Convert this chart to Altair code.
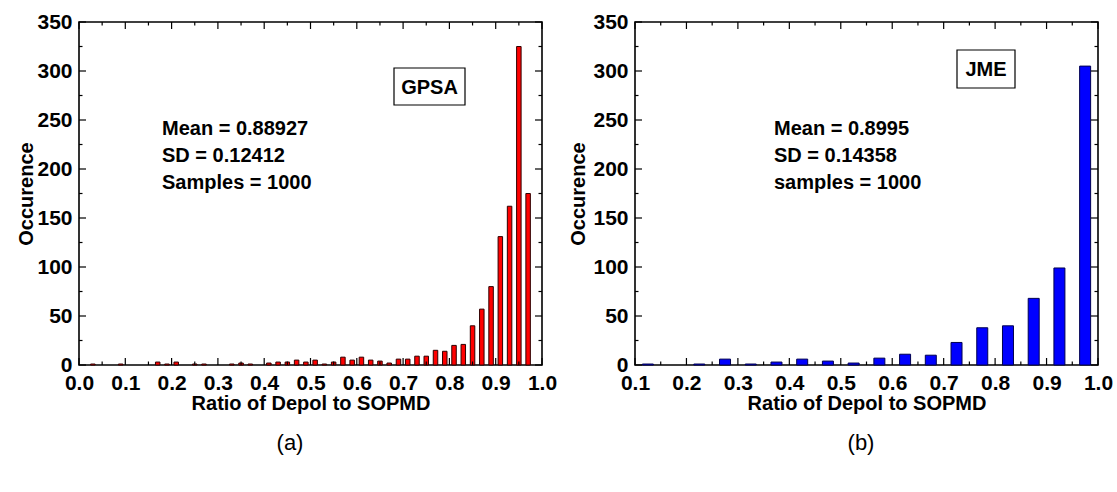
import altair as alt
import pandas as pd

# ---------------- data ----------------
# (a) GPSA histogram: bin centres and occurrences
gpsa_bin = [0.01, 0.03, 0.05, 0.07, 0.09, 0.11, 0.13, 0.15, 0.17, 0.19,
            0.21, 0.23, 0.25, 0.27, 0.29, 0.31, 0.33, 0.35, 0.37, 0.39,
            0.41, 0.43, 0.45, 0.47, 0.49, 0.51, 0.53, 0.55, 0.57, 0.59,
            0.61, 0.63, 0.65, 0.67, 0.69, 0.71, 0.73, 0.75, 0.77, 0.79,
            0.81, 0.83, 0.85, 0.87, 0.89, 0.91, 0.93, 0.95, 0.97, 0.99]
gpsa_count = [0, 1, 0, 0, 1, 0, 0, 0, 3, 1,
              3, 0, 1, 1, 0, 0, 1, 2, 1, 0,
              2, 3, 3, 5, 3, 5, 1, 3, 8, 5,
              8, 5, 4, 2, 6, 6, 9, 9, 15, 14,
              20, 21, 40, 57, 80, 131, 162, 325, 175, 0]

# (b) JME histogram
jme_bin = [0.125, 0.175, 0.225, 0.275, 0.325, 0.375, 0.425, 0.475, 0.525,
           0.575, 0.625, 0.675, 0.725, 0.775, 0.825, 0.875, 0.925, 0.975]
jme_count = [1, 0, 1, 6, 1, 3, 6, 4, 2, 7, 11, 10, 23, 38, 40, 68, 99, 305]

# axis ticks
gpsa_xmajor = [0.0, 0.1, 0.2, 0.3, 0.4, 0.5, 0.6, 0.7, 0.8, 0.9, 1.0]
gpsa_xminor = [0.05, 0.15, 0.25, 0.35, 0.45, 0.55, 0.65, 0.75, 0.85, 0.95]
jme_xmajor = [0.1, 0.2, 0.3, 0.4, 0.5, 0.6, 0.7, 0.8, 0.9, 1.0]
jme_xminor = [0.15, 0.25, 0.35, 0.45, 0.55, 0.65, 0.75, 0.85, 0.95]
ymajor = [0, 50, 100, 150, 200, 250, 300, 350]
yminor = [25, 75, 125, 175, 225, 275, 325]

gpsa_stats = "Mean = 0.88927\nSD = 0.12412\nSamples = 1000"
jme_stats = "Mean = 0.8995\nSD = 0.14358\nsamples = 1000"

FONT = "Liberation Sans"
W, H = 463, 343
MAJ, MIN = 7, 3.5
XTITLE = "Ratio of Depol to SOPMD"
YTITLE = "Occurence"


def panel(bins, counts, xdom, xmaj, xmin, fill, stroke, barw,
          stats, stats_x, tag, box, letter, letter_x, ytpad):
    df = pd.DataFrame({"bin": bins, "count": counts})
    df = df[df["count"] > 0]
    xs = alt.Scale(domain=xdom, nice=False, zero=False, padding=0)
    ys = alt.Scale(domain=[0, 350], nice=False, padding=0)
    xax = alt.Axis(values=xmaj, format=".1f", labelFlush=False,
                   labelOverlap=False, ticks=False, domain=False,
                   grid=False, labelPadding=7, titlePadding=0)
    yax = alt.Axis(values=ymajor, ticks=False, domain=False,
                   grid=False, labelPadding=7, titlePadding=ytpad)

    def X(f):
        return alt.X(f, scale=xs, title=XTITLE, axis=xax)

    def Y(f):
        return alt.Y(f, scale=ys, title=YTITLE, axis=yax)

    bars = alt.Chart(df).mark_bar(
        width=barw, color=fill, stroke=stroke, strokeWidth=1
    ).encode(x=X("bin:Q"), y=Y("count:Q"))

    def xt(vals, length):
        d = pd.DataFrame({"bin": vals})
        base = alt.Chart(d).mark_rule(color="black", strokeWidth=1.2)
        bot = base.encode(x=X("bin:Q"), y=alt.value(H), y2=alt.value(H - length))
        top = base.encode(x=X("bin:Q"), y=alt.value(0), y2=alt.value(length))
        return [bot, top]

    def yt(vals, length):
        d = pd.DataFrame({"count": vals})
        base = alt.Chart(d).mark_rule(color="black", strokeWidth=1.2)
        lft = base.encode(y=Y("count:Q"), x=alt.value(0), x2=alt.value(length))
        rgt = base.encode(y=Y("count:Q"), x=alt.value(W), x2=alt.value(W - length))
        return [lft, rgt]

    one = pd.DataFrame({"t": [stats]})
    stat_txt = alt.Chart(one).mark_text(
        align="left", baseline="alphabetic", font=FONT, fontSize=20,
        fontWeight="bold", lineBreak="\n", lineHeight=27, color="black"
    ).encode(text="t:N", x=alt.value(stats_x), y=alt.value(113))

    bx0, bx1, by0, by1 = box
    tagdf = pd.DataFrame({"t": [tag]})
    rect = alt.Chart(tagdf).mark_rect(
        fill="white", stroke="black", strokeWidth=1.2
    ).encode(x=alt.value(bx0), x2=alt.value(bx1), y=alt.value(by0), y2=alt.value(by1))
    tagtxt = alt.Chart(tagdf).mark_text(
        align="center", baseline="middle", font=FONT, fontSize=20,
        fontWeight="bold", color="black"
    ).encode(text="t:N", x=alt.value((bx0 + bx1) / 2), y=alt.value((by0 + by1) / 2 + 1))

    letdf = pd.DataFrame({"t": [letter]})
    lettxt = alt.Chart(letdf).mark_text(
        align="center", baseline="middle", font=FONT, fontSize=22,
        color="black"
    ).encode(text="t:N", x=alt.value(letter_x), y=alt.value(421))

    layers = [bars] + xt(xmaj, MAJ) + xt(xmin, MIN) + yt(ymajor, MAJ) + yt(yminor, MIN)
    layers += [stat_txt, rect, tagtxt, lettxt]
    return alt.layer(*layers).properties(width=W, height=H)


left = panel(gpsa_bin, gpsa_count, [0.0, 1.0], gpsa_xmajor, gpsa_xminor,
             "#ff0000", "#300000", 4.5, gpsa_stats, 83, "GPSA",
             (315, 386, 46, 83), "(a)", 211, 0)
right = panel(jme_bin, jme_count, [0.1, 1.0], jme_xmajor, jme_xminor,
              "#0000ff", "#000050", 11, jme_stats, 139, "JME",
              (322, 380, 28, 66), "(b)", 226, 4)

chart = alt.hconcat(left, right, spacing=10).resolve_scale(
    x="independent", y="independent"
).properties(
    padding={"left": 16, "top": 10, "right": 0, "bottom": 0},
    background="white",
).configure_view(
    stroke="black", strokeWidth=1.6
).configure_axis(
    labelFont=FONT, labelFontSize=21, labelFontWeight="bold", labelColor="black",
    titleFont=FONT, titleFontSize=20, titleFontWeight="bold", titleColor="black",
)

chart.save("out.html", embed_options={"renderer": "svg", "actions": False})
